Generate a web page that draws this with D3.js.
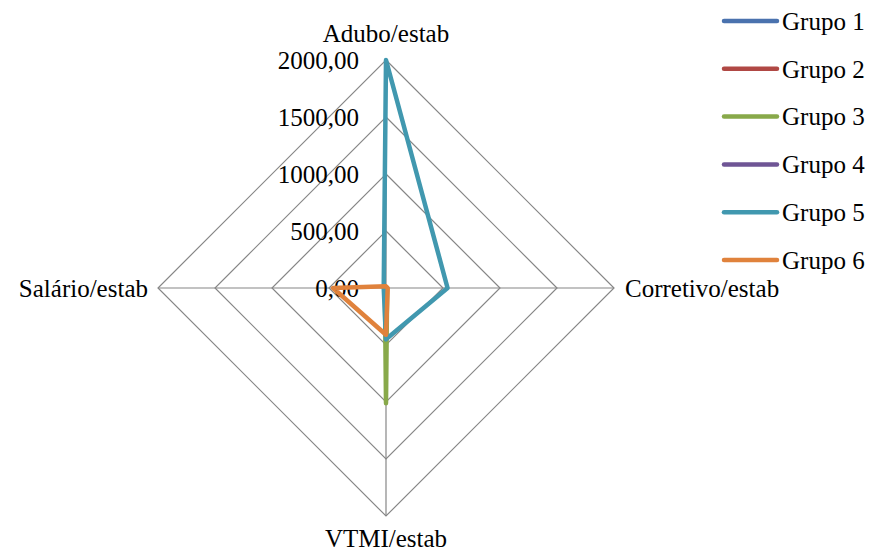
<!DOCTYPE html>
<html>
<head>
<meta charset="utf-8">
<script src="https://cdn.jsdelivr.net/npm/d3@7"></script>
<style>
  body { margin: 0; background: #fff; }
  text { font-family: "Liberation Serif", "Times New Roman", serif; fill: #000; }
</style>
</head>
<body>
<div id="chart"></div>
<script>
// axes of the radar, clockwise from the top
var axes = ["Adubo/estab", "Corretivo/estab", "VTMI/estab", "Salário/estab"];
var groups = ["Grupo 1", "Grupo 2", "Grupo 3", "Grupo 4", "Grupo 5", "Grupo 6"];
var ticks = [0, 500, 1000, 1500, 2000];

// values per group, same order as axes
var grupo1 = [5, 5, 5, 5];
var grupo2 = [5, 5, 5, 5];
var grupo3 = [10, 10, 1010, 10];
var grupo4 = [5, 5, 5, 5];
var grupo5 = [2000, 540, 450, 20];
var grupo6 = [15, 15, 410, 465];
var series = [grupo1, grupo2, grupo3, grupo4, grupo5, grupo6];

var colors = ["#4A72AE", "#B04844", "#88A94A", "#6F5595", "#4198AF", "#E0823C"];

var width = 874, height = 551;
var cx = 386, cy = 288, R = 228;

var svg = d3.select("#chart").append("svg")
    .attr("width", width)
    .attr("height", height);

var r = d3.scaleLinear().domain([0, 2000]).range([0, R]);
var angle = d3.scalePoint().domain(axes).range([0, 2 * Math.PI * 3 / 4]);

function pt(axis, v) {
    var a = angle(axis);
    return [cx + r(v) * Math.sin(a), cy - r(v) * Math.cos(a)];
}

var grid = svg.append("g")
    .attr("stroke", "#868686")
    .attr("stroke-width", 1.2)
    .attr("fill", "none");

// rings
ticks.filter(function(t) { return t > 0; }).forEach(function(t) {
    grid.append("path")
        .attr("d", d3.line()(axes.map(function(a) { return pt(a, t); })) + "Z");
});

// spokes
axes.forEach(function(a) {
    var p = pt(a, 2000);
    grid.append("line")
        .attr("x1", cx).attr("y1", cy)
        .attr("x2", p[0]).attr("y2", p[1]);
});

// tick labels along the top axis
svg.append("g").selectAll("text")
    .data(ticks)
    .enter().append("text")
    .attr("x", cx - 27)
    .attr("y", function(d) { return cy - r(d); })
    .attr("dy", "0.35em")
    .attr("text-anchor", "end")
    .style("font-size", "25px")
    .text(function(d) { return d3.format(".2f")(d).replace(".", ","); });

// axis labels
var labelPos = {
    "Adubo/estab": { x: cx, y: 33, anchor: "middle" },
    "Corretivo/estab": { x: 625, y: cy, anchor: "start" },
    "VTMI/estab": { x: cx, y: 538, anchor: "middle" },
    "Salário/estab": { x: 148, y: cy, anchor: "end" }
};
svg.append("g").selectAll("text")
    .data(axes)
    .enter().append("text")
    .attr("x", function(d) { return labelPos[d].x; })
    .attr("y", function(d) { return labelPos[d].y; })
    .attr("dy", "0.35em")
    .attr("text-anchor", function(d) { return labelPos[d].anchor; })
    .style("font-size", "25px")
    .text(function(d) { return d; });

// series lines
var line = d3.line().curve(d3.curveLinearClosed);
svg.append("g").selectAll("path")
    .data(series)
    .enter().append("path")
    .attr("fill", "none")
    .attr("stroke", function(d, i) { return colors[i]; })
    .attr("stroke-width", 4.5)
    .attr("stroke-linejoin", "round")
    .attr("d", function(d) {
        return line(d.map(function(v, i) { return pt(axes[i], v); }));
    });

// legend
var legend = svg.append("g").selectAll("g")
    .data(groups)
    .enter().append("g")
    .attr("transform", function(d, i) { return "translate(724," + (21 + i * 47.8) + ")"; });

legend.append("line")
    .attr("x1", 0).attr("x2", 53)
    .attr("stroke", function(d, i) { return colors[i]; })
    .attr("stroke-width", 4.5)
    .attr("stroke-linecap", "round");

legend.append("text")
    .attr("x", 58)
    .attr("dy", "0.35em")
    .style("font-size", "25px")
    .text(function(d) { return d; });
</script>
</body>
</html>
